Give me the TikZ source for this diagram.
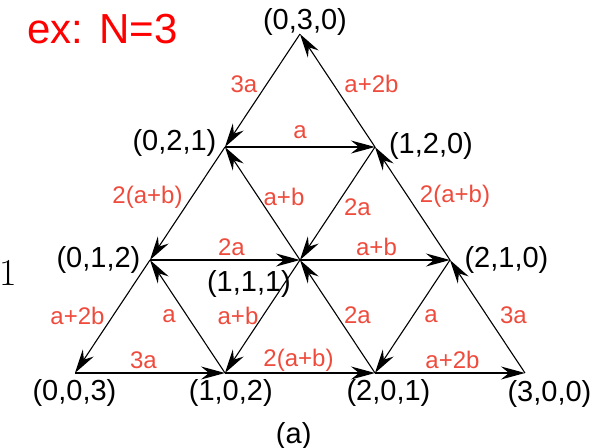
\documentclass[tikz,border=0pt]{standalone}
\usepackage{fontspec}
\usepackage{tikz}
\usetikzlibrary{arrows.meta}
\newfontfamily\arialfont{Liberation Sans}
\definecolor{Lab}{HTML}{EE4B3C}
\definecolor{Head}{HTML}{FF0000}
\definecolor{Ink}{HTML}{000000}

\begin{document}
\begin{tikzpicture}[x=37.5pt,y=56.5pt,
  edge/.style={Ink,line width=0.55pt,-{Stealth[length=12pt,width=6.5pt,inset=4pt]}},
  vlab/.style={font=\arialfont\fontsize{14.5}{16}\selectfont,Ink,inner sep=0pt},
  elab/.style={font=\arialfont\fontsize{12}{14}\selectfont,text=Lab,inner sep=0pt}]
  \useasboundingbox (-1,-0.6549) rectangle (7.1067,3.3009);
  % lattice points (a,b,c), a+b+c=3
  \foreach \a/\b/\c in {0/0/3,1/0/2,2/0/1,3/0/0,0/1/2,1/1/1,2/1/0,0/2/1,1/2/0,0/3/0}
    \coordinate (v\a\b\c) at ({2*\a+\b},\b);
  \foreach \s/\t/\lab/\dx/\dy in {
    v030/v021/3a/-9.25/3.25,
    v120/v030/a+2b/17/3.25,
    v021/v120/a/0/7.5,
    v021/v012/2(a+b)/-20/3.25,
    v111/v021/a+b/10.75/3.25,
    v120/v111/2a/10/-1.75,
    v210/v120/2(a+b)/21.25/3.75,
    v012/v111/2a/3.25/6.5,
    v111/v210/a+b/0.75/6.5,
    v012/v003/a+2b/-17.5/0.5,
    v102/v012/a/-9.25/0,
    v111/v102/a+b/-12.25/0.5,
    v201/v111/2a/10/0.5,
    v210/v201/a/9.25/0,
    v300/v210/3a/13/0.5,
    v003/v102/3a/-3.25/6.5,
    v102/v201/2(a+b)/-0.75/6.5,
    v201/v300/a+2b/1.25/6.5} {
    \draw[edge] (\s) -- node[elab,xshift=\dx pt,yshift=\dy pt] {\lab} (\t);
  }
  \foreach \a/\b/\c/\dx/\dy in {
    0/3/0/2.5/6.25, 0/2/1/-25.25/2.25, 1/2/0/28/0.5,
    0/1/2/-25.75/0.25, 1/1/1/-25.5/-12, 2/1/0/28.25/0.25,
    0/0/3/-0.25/-9.75, 1/0/2/2.9/-9.75, 2/0/1/6.75/-10, 3/0/0/12.25/-10.25} {
    \node[vlab,xshift=\dx pt,yshift=\dy pt] (l\a\b\c) at (v\a\b\c) {(\a,\b,\c)};
  }
  \node[font=\arialfont\fontsize{21}{24}\selectfont,text=Head,inner sep=0pt] (title) at (0.367,3.044) {ex: N=3};
  \node[font=\fontsize{19}{21}\selectfont,inner sep=0pt] (one) at (-0.89,0.885) {1};
  \node[vlab,font=\arialfont\fontsize{14.5}{16}\selectfont] (cap) at (2.916,-0.556) {(a)};
\end{tikzpicture}
\end{document}
